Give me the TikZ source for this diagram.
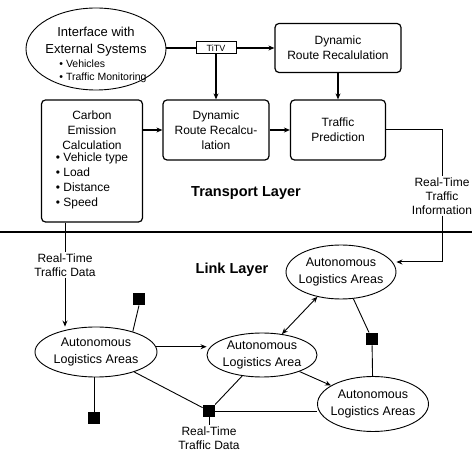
\documentclass[tikz,border=0pt]{standalone}
\usepackage{fontspec}
\setmainfont{Liberation Sans}
\usetikzlibrary{arrows.meta,positioning,shapes.geometric}

\begin{document}
\begin{tikzpicture}[
      x=1pt, y=-1pt,
      mybox/.style={
         rectangle,
         rounded corners=4pt,
         draw,
         line width=1.2pt,
         align=center,
         inner sep=2pt,
         font=\fontsize{12}{15}\selectfont},
      myellipse/.style={
         ellipse,
         draw,
         line width=0.9pt,
         align=center,
         inner xsep=-4pt,
         inner ysep=0pt,
         font=\fontsize{12.5}{16.5}\selectfont},
      mysquare/.style={rectangle, fill=black, minimum size=12.5pt, inner sep=0pt},
      mylabel/.style={fill=white, align=center, inner sep=1pt, font=\fontsize{12}{14}\selectfont},
      mylayer/.style={font=\fontsize{14.5}{17}\selectfont\bfseries},
      myarrow/.style={-{Stealth[length=6pt,width=5pt]}, line width=1.2pt},
      myline/.style={line width=0.9pt}
      ]
      \useasboundingbox (0,0) rectangle (472,470);

      % transport layer
      \node[myellipse, minimum width=140pt, minimum height=82pt, inner xsep=-6pt, inner ysep=-8pt,
            font=\fontsize{13}{17}\selectfont] (ext) at (96,49)
           {\raisebox{-6pt}[\height][\depth]{\begin{tabular}{@{}c@{}}Interface with\\External Systems\\[-3pt]%
            \hspace*{14pt}{\fontsize{10.5}{13}\selectfont
            \begin{tabular}[t]{@{}l@{}}• Vehicles\\• Traffic Monitoring\end{tabular}}\end{tabular}}};
      \node[draw, line width=1pt, minimum width=40pt, minimum height=12pt, inner sep=0pt,
            font=\fontsize{9}{10}\selectfont] (titv) at (216,48) {TiTV};
      \node[mybox, minimum width=126pt, minimum height=49pt] (drrtop) at (338,48) {Dynamic\\Route Recalulation};
      \node[mybox, minimum width=106pt, minimum height=60pt] (drr) at (216,130) {Dynamic\\Route Recalcu-\\lation};
      \node[mybox, minimum width=95pt, minimum height=60pt] (tp) at (338,130) {Traffic\\Prediction};
      \node[mybox, minimum width=101pt, minimum height=122pt] (carbon) at (92,161)
           {Carbon\\Emission\\Calculation\\[1pt]\begin{tabular}{@{}l@{}}• Vehicle type\\• Load\\• Distance\\• Speed\end{tabular}};

      \draw[line width=1.6pt] (titv.west -| ext.east) -- (titv.west);
      \foreach \i/\j in {titv.east/drrtop.west, titv.south/drr.north, drrtop.south/tp.north, drr.east/tp.west}
         \draw[myarrow] (\i) -- (\j);
      \draw[myarrow] (carbon.east |- drr) -- (drr.west);

      \node[mylayer] (transport) at (246,193) {Transport Layer};

      % layer border
      \draw[line width=1.6pt] (0,232) -- (472,232);

      % link layer
      \node[mylayer] (link) at (232,270) {Link Layer};
      \node[myellipse, minimum width=122pt, minimum height=50pt] (a1) at (96,352) {Autonomous\\Logistics Areas};
      \node[myellipse, minimum width=110pt, minimum height=44pt] (a2) at (262,355) {Autonomous\\Logistics Area};
      \node[myellipse, minimum width=110pt, minimum height=54pt] (a3) at (341,272) {Autonomous\\Logistics Areas};
      \node[myellipse, minimum width=111pt, minimum height=55pt] (a4) at (373,404) {Autonomous\\Logistics Areas};

      \node[mysquare] (s1) at (139,299) {};
      \node[mysquare] (s2) at (94,418) {};
      \node[mysquare] (s3) at (209,411) {};
      \node[mysquare] (s4) at (372,339) {};

      \node[mylabel] (rtd1) at (65,265) {Real-Time\\Traffic Data};
      \node[mylabel, below=8pt of s3] (rtd2) {Real-Time\\Traffic Data};
      \node[mylabel] (rti) at (442,196) {Real-Time\\Traffic\\Information};
      \coordinate (bend) at (442,262);

      \draw[myarrow, line width=1pt] (tp.east) -| (rti) -- (bend) -- (a3.east |- bend);
      \draw[myarrow, line width=0.9pt] (carbon.south -| rtd1) -- (rtd1) -- (rtd1 |- a1.north);
      \draw[myarrow, line width=0.9pt] (a1.5) -- (a2.west |- a1.5);
      \draw[myarrow, line width=0.9pt] (a2) -- (a4);
      \draw[{Stealth[length=6pt,width=5pt]}-{Stealth[length=6pt,width=5pt]}, line width=0.9pt] (a2) -- (a3);

      \foreach \i/\j in {s1.south/a1.29, a3/s4, s4/a4, a1/s3, s3/a2, s3/rtd2}
         \draw[myline] (\i) -- (\j);
      \draw[myline] (a1.south -| s2) -- (s2);
      \draw[myline] (s3) -- (s3 -| a4.west);
\end{tikzpicture}
\end{document}
